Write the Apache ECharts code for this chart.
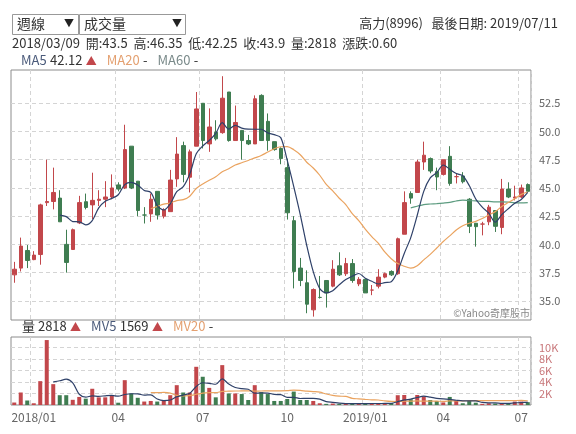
<!DOCTYPE html>
<html><head><meta charset="utf-8">
<script src="https://cdn.jsdelivr.net/npm/echarts@6/dist/echarts.min.js"></script>
<style>html,body{margin:0;padding:0;background:#fff}#c{width:576px;height:434px}</style>
</head><body><div id="c"></div>
<script>
const opens  = [37.3,37.9,39.46,38.65,39.1,43.7,43.8,44.1,40.0,39.55,41.9,43.78,43.5,43.9,44.0,44.2,45.27,45.0,48.7,45.6,42.6,42.7,44.7,42.5,42.9,45.8,48.75,45.95,48.7,52.5,48.9,49.94,49.9,53.5,49.2,50.1,49.2,48.9,53.2,50.9,49.1,48.5,46.8,42.1,37.9,36.6,34.2,35.3,36.8,36.3,38.1,37.4,38.3,36.5,36.9,35.95,36.3,37.1,37.6,37.4,40.9,44.5,44.6,47.3,47.6,46.45,46.2,47.8,46.0,46.06,44.0,41.87,41.8,42.0,43.0,41.5,44.9,44.1,44.2,45.3];
const closes = [37.8,39.85,38.57,39.05,43.5,43.8,44.6,42.0,38.4,41.3,43.7,43.27,43.9,44.0,44.2,45.0,44.9,48.4,45.0,43.0,42.6,44.0,42.6,43.04,45.7,48.0,46.2,48.2,52.0,49.2,50.4,49.35,52.95,49.2,50.8,49.2,48.9,52.9,49.2,49.2,48.4,47.6,42.8,37.6,36.8,34.7,36.0,35.3,35.7,37.8,37.3,38.3,36.8,36.9,35.7,35.95,37.1,37.4,37.3,40.5,43.7,44.1,47.3,47.9,46.5,45.97,47.5,45.4,46.0,45.55,41.6,41.57,41.8,43.3,41.6,44.9,44.2,44.2,45.0,44.7];
const lows   = [36.6,37.6,37.9,38.6,38.2,43.4,43.1,42.0,37.5,39.5,41.8,43.1,42.25,43.4,43.3,44.0,44.7,44.9,44.9,42.5,41.85,42.0,42.2,42.3,42.9,45.1,45.5,44.6,48.7,48.5,48.2,49.2,49.8,49.1,49.2,47.5,48.8,48.9,49.2,48.3,48.3,47.1,42.2,36.1,36.3,33.9,33.6,35.2,34.4,36.2,37.2,37.2,36.6,36.3,35.7,35.5,36.1,37.0,37.2,37.3,40.9,43.6,44.6,46.6,46.3,44.8,46.1,45.2,45.4,45.4,41.0,39.8,40.8,41.7,41.1,40.9,44.1,43.9,44.1,44.7];
const highs  = [38.45,40.6,39.94,39.4,43.6,47.5,46.8,44.8,41.3,41.4,44.3,44.5,46.35,44.8,45.6,46.2,45.5,50.6,48.7,45.6,43.3,44.5,44.7,43.2,46.6,49.5,49.1,48.4,53.5,52.5,52.05,51.0,54.9,53.5,52.3,50.1,49.7,53.2,53.3,51.6,49.1,48.6,47.6,42.5,38.8,37.7,36.1,37.2,36.8,38.6,39.3,38.8,38.7,37.1,36.9,36.4,37.8,37.5,37.7,40.6,44.7,44.7,47.5,49.1,47.7,46.8,47.5,48.7,46.3,46.4,44.1,41.9,42.0,43.5,43.0,45.8,45.5,45.2,45.3,45.4];
const volumes = [430,2170,780,300,4140,11270,3620,1700,1700,900,1400,1100,2818,1330,1330,1740,400,4310,2000,1250,600,700,600,700,1700,3440,2170,2170,6630,4900,2970,1330,6920,2000,2000,1900,870,3440,2230,1900,700,700,1040,2330,870,870,700,300,200,250,200,300,250,300,200,250,300,300,350,1700,1740,1000,1740,1500,870,700,450,1400,700,300,700,400,200,300,250,300,350,600,600,500];
const tickIdx = [3,16,29,42,54,66,78];
const tickText = ['2018/01','04','07','10','2019/01','04','07'];
const priceTicks = [35,37.5,40,42.5,45,47.5,50,52.5];
const volTicks = [2000,4000,6000,8000,10000];

const RED='#c2474b', GREEN='#3f7d51';
const categories = [];
{ let d = new Date(Date.UTC(2017,11,8));
  while (categories.length < opens.length) {
    const s = d.getUTCFullYear()+'/'+String(d.getUTCMonth()+1).padStart(2,'0')+'/'+String(d.getUTCDate()).padStart(2,'0');
    if (s !== '2018/02/16') categories.push(s);
    d = new Date(d.getTime()+7*86400000);
  } }
function ma(arr, n, start){ return arr.map((v,i)=>{ if(i<start||i<n-1) return null; let s=0; for(let k=i-n+1;k<=i;k++) s+=arr[k]; return +(s/n).toFixed(3);}); }
const candle = opens.map((o,i)=>[o,closes[i],lows[i],highs[i]]);
const volData = volumes.map((v,i)=>({value:v,itemStyle:{color: closes[i]>=opens[i]?RED:GREEN}}));
const showTick = (i)=>tickIdx.includes(i);

const chart = echarts.init(document.getElementById('c'));
const FONT = '"Noto Sans CJK TC","Noto Sans",sans-serif';
const lineS = (name,data,color,xi,yi)=>({name,type:'line',data,xAxisIndex:xi,yAxisIndex:yi,symbol:'none',smooth:0.3,lineStyle:{color,width:1.2},silent:true});
chart.setOption({
  animation:false,
  textStyle:{fontFamily:FONT},
  grid:[{left:11,right:45,top:70,height:250,show:true,borderColor:'#8c8c8c',borderWidth:1},
        {left:11,right:45,top:337,height:68,show:true,borderColor:'#8c8c8c',borderWidth:1}],
  xAxis:[
    {type:'category',data:categories,gridIndex:0,boundaryGap:true,axisLine:{show:false},axisTick:{show:false},axisLabel:{show:false},
     splitLine:{show:true,interval:(i)=>showTick(i),lineStyle:{color:'#d4d4d4',type:[4,3]}}},
    {type:'category',data:categories,gridIndex:1,boundaryGap:true,axisLine:{show:false},axisTick:{show:false},
     axisLabel:{show:true,interval:(i)=>showTick(i),formatter:(v,i)=>tickText[tickIdx.indexOf(i)]||'',color:'#666',fontSize:12,margin:6,fontFamily:FONT},
     splitLine:{show:true,interval:(i)=>showTick(i),lineStyle:{color:'#d4d4d4',type:[4,3]}}}
  ],
  yAxis:[
    {type:'value',gridIndex:0,position:'right',min:33.3,max:55.45,axisLine:{show:false},
     axisTick:{show:false,customValues:priceTicks},
     axisLabel:{customValues:priceTicks,formatter:(v)=>v.toFixed(1),color:'#666',fontSize:11,margin:8,fontFamily:FONT},
     splitLine:{show:true,lineStyle:{color:'#d4d4d4',type:[4,3]}}},
    {type:'value',gridIndex:1,position:'right',min:0,max:11800,axisLine:{show:false},
     axisTick:{show:false,customValues:volTicks},
     axisLabel:{customValues:volTicks,formatter:(v)=>(v/1000)+'K',color:'#c8777a',fontSize:11,margin:8,fontFamily:FONT},
     splitLine:{show:true,lineStyle:{color:'#d4d4d4',type:[4,3]}}}
  ],
  series:[
    {type:'candlestick',data:candle,xAxisIndex:0,yAxisIndex:0,barWidth:4,
     itemStyle:{color:RED,color0:GREEN,borderColor:RED,borderColor0:GREEN,borderWidth:1}},
    lineS('MA60',ma(closes,60,61),'#5d9c80',0,0),
    lineS('MA20',ma(closes,20,21),'#eaa35f',0,0),
    lineS('MA5',ma(closes,5,7),'#2f4169',0,0),
    {type:'bar',data:volData,xAxisIndex:1,yAxisIndex:1,barWidth:4},
    lineS('MV20',ma(volumes,20,21),'#eaa35f',1,1),
    lineS('MV5',ma(volumes,5,6),'#2f4169',1,1)
  ],
  graphic:[
    {type:'rect',shape:{x:12.5,y:14.5,width:66,height:20},style:{fill:'#fff',stroke:'#999'}},
    {type:'text',x:17,y:17,style:{text:'週線',font:'14px '+FONT,fill:'#333'}},
    {type:'text',x:64,y:18,style:{text:'▼',font:'10px '+FONT,fill:'#222'}},
    {type:'rect',shape:{x:79.5,y:14.5,width:106,height:20},style:{fill:'#fff',stroke:'#999'}},
    {type:'text',x:84,y:17,style:{text:'成交量',font:'14px '+FONT,fill:'#333'}},
    {type:'text',x:172,y:18,style:{text:'▼',font:'10px '+FONT,fill:'#222'}},
    {type:'text',x:558,y:17,style:{text:'高力(8996)   最後日期: 2019/07/11',font:'13px '+FONT,fill:'#333',align:'right'}},
    {type:'text',x:12,y:37,style:{text:'2018/03/09  開:43.5  高:46.35  低:42.25  收:43.9  量:2818  漲跌:0.60',font:'13px '+FONT,fill:'#333'}},
    {type:'text',x:21,y:54,style:{rich:{a:{fill:'#4a5a7a',font:'13px '+FONT},b:{fill:'#333',font:'13px '+FONT},r:{fill:RED,font:'11px '+FONT},o:{fill:'#e4a070',font:'13px '+FONT},g:{fill:'#7a8a8a',font:'13px '+FONT}},
      text:'{a|MA5} {b|42.12} {r|▲}   {o|MA20} {b|-}   {g|MA60} {b|-}'}},
    {type:'text',x:22,y:320,style:{rich:{a:{fill:'#4a5a7a',font:'13px '+FONT},b:{fill:'#333',font:'13px '+FONT},r:{fill:RED,font:'11px '+FONT},o:{fill:'#e4a070',font:'13px '+FONT}},
      text:'{b|量 2818} {r|▲}   {a|MV5} {b|1569} {r|▲}   {o|MV20} {b|-}'}},
    {type:'text',x:530,y:308,style:{text:'©Yahoo奇摩股市',font:'10px '+FONT,fill:'#888',align:'right'}}
  ]
});
</script></body></html>
